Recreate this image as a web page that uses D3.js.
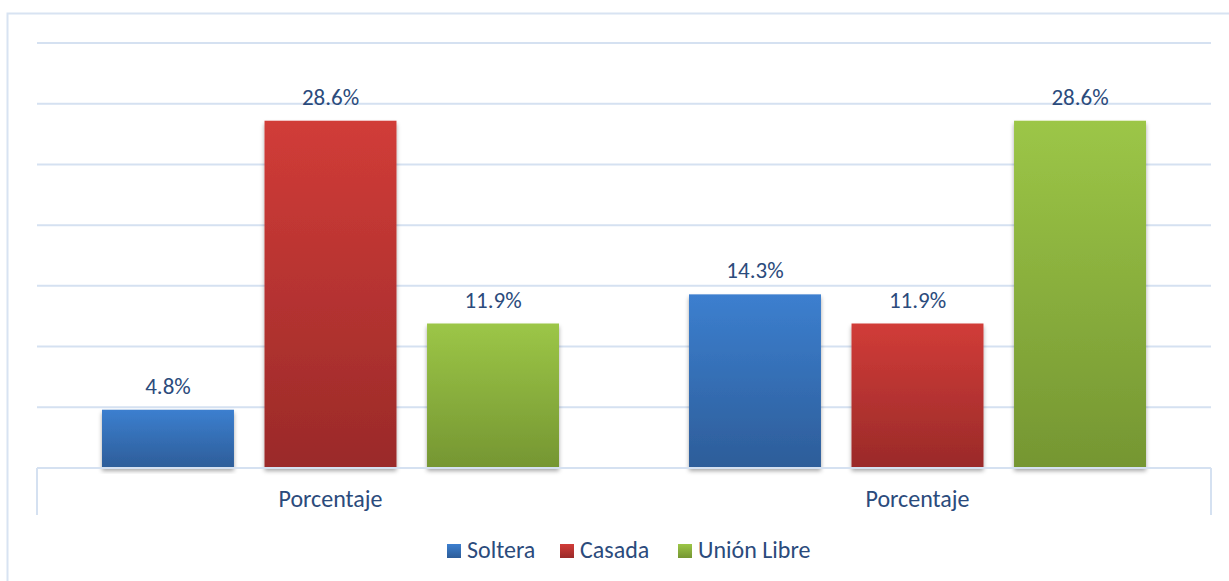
<!DOCTYPE html>
<html lang="es">
<head>
    <meta charset="UTF-8">
    <title>Estado civil</title>
    <script src="https://d3js.org/d3.v7.min.js"></script>
    <style>
        body {
            margin: 0;
            background: #fff;
        }
        text {
            font-family: Carlito, Calibri, Lato, "Open Sans", sans-serif;
            fill: #2b4b7c;
        }
        .grid line {
            stroke: #d5e1f1;
            stroke-width: 2;
        }
    </style>
</head>
<body>
    <svg width="1229" height="581"></svg>
    <script>
        // Data
        const categories = ["Porcentaje", "Porcentaje"];
        const series = ["Soltera", "Casada", "Unión Libre"];
        const soltera = [4.8, 14.3];
        const casada = [28.6, 11.9];
        const unionLibre = [11.9, 28.6];
        const yTicks = [0, 5, 10, 15, 20, 25, 30, 35];

        const values = [soltera, casada, unionLibre];
        const colors = [
            {top: "#3c7fcf", bottom: "#2d5d99"},
            {top: "#d13c38", bottom: "#9a2a29"},
            {top: "#9cc647", bottom: "#759632"}
        ];

        const svg = d3.select("svg");
        const plotLeft = 37, plotRight = 1211, plotTop = 43, plotBase = 468;

        // Outer frame
        svg.append("rect")
           .attr("x", 7.5).attr("y", 13.5)
           .attr("width", 1300).attr("height", 700)
           .attr("fill", "none")
           .attr("stroke", "#d8e3f2")
           .attr("stroke-width", 2);

        const defs = svg.append("defs");
        colors.forEach((c, i) => {
            const g = defs.append("linearGradient")
                .attr("id", "grad" + i)
                .attr("x1", 0).attr("y1", 0).attr("x2", 0).attr("y2", 1);
            g.append("stop").attr("offset", "0%").attr("stop-color", c.top);
            g.append("stop").attr("offset", "100%").attr("stop-color", c.bottom);
        });
        defs.append("filter")
            .attr("id", "shadow")
            .attr("x", "-10%").attr("y", "-10%").attr("width", "120%").attr("height", "120%")
            .append("feDropShadow")
            .attr("dx", 0).attr("dy", 3)
            .attr("stdDeviation", 2)
            .attr("flood-color", "#000")
            .attr("flood-opacity", 0.35);

        // Scales
        const x0 = d3.scaleBand()
            .domain(d3.range(categories.length))
            .range([plotLeft, plotRight])
            .padding(0);

        const x1 = d3.scaleBand()
            .domain(d3.range(series.length))
            .range([0, x0.bandwidth()])
            .paddingInner(0.188)
            .paddingOuter(0.4);

        const y = d3.scaleLinear()
            .domain([0, 35])
            .range([plotBase, plotTop]);

        // Gridlines
        svg.append("g")
           .attr("class", "grid")
           .selectAll("line")
           .data(yTicks.filter(d => d > 0))
           .join("line")
           .attr("x1", plotLeft).attr("x2", plotRight)
           .attr("y1", d => y(d)).attr("y2", d => y(d));

        // Bars
        const groups = svg.append("g")
            .selectAll("g")
            .data(categories.map((c, i) => i))
            .join("g")
            .attr("transform", i => `translate(${x0(i)},0)`);

        groups.selectAll("rect")
            .data(i => values.map((v, s) => ({s, v: v[i]})))
            .join("rect")
            .attr("x", d => x1(d.s))
            .attr("y", d => y(d.v))
            .attr("width", x1.bandwidth())
            .attr("height", d => plotBase - y(d.v))
            .attr("fill", d => `url(#grad${d.s})`)
            .attr("filter", "url(#shadow)");

        groups.selectAll("text.label")
            .data(i => values.map((v, s) => ({s, v: v[i]})))
            .join("text")
            .attr("class", "label")
            .attr("x", d => x1(d.s) + x1.bandwidth() / 2)
            .attr("y", d => y(d.v) - 16)
            .attr("text-anchor", "middle")
            .style("font-size", "23px")
            .text(d => d.v.toFixed(1) + "%");

        // X axis
        const axis = svg.append("g").attr("class", "grid");
        axis.append("line")
            .attr("x1", plotLeft).attr("x2", plotRight)
            .attr("y1", y(0)).attr("y2", y(0));
        axis.selectAll("line.tick")
            .data([plotLeft, plotRight])
            .join("line")
            .attr("class", "tick")
            .attr("x1", d => d).attr("x2", d => d)
            .attr("y1", y(0)).attr("y2", 515);

        svg.append("g")
           .selectAll("text")
           .data(categories)
           .join("text")
           .attr("x", (d, i) => x0(i) + x0.bandwidth() / 2)
           .attr("y", 507)
           .attr("text-anchor", "middle")
           .style("font-size", "24px")
           .text(d => d);

        // Legend
        const legendX = [447, 560, 678];
        const legend = svg.append("g")
            .selectAll("g")
            .data(series)
            .join("g")
            .attr("transform", (d, i) => `translate(${legendX[i]},544)`);
        legend.append("rect")
            .attr("width", 14).attr("height", 14)
            .attr("fill", (d, i) => `url(#grad${i})`);
        legend.append("text")
            .attr("x", 20).attr("y", 13.5)
            .style("font-size", "24px")
            .text(d => d);
    </script>
</body>
</html>
